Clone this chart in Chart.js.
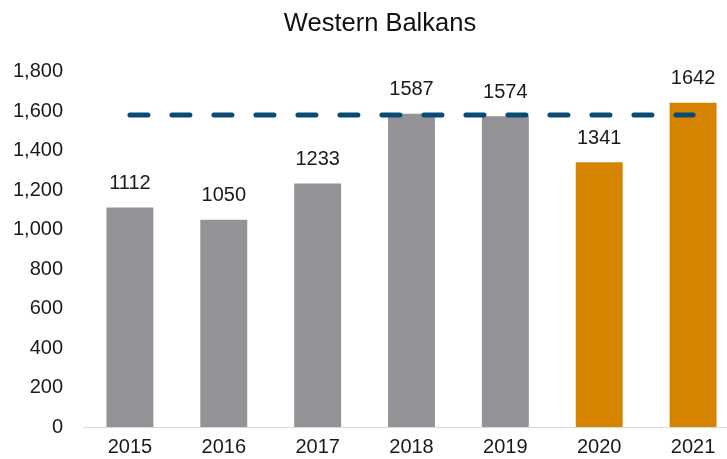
<!DOCTYPE html>
<html>
<head>
<meta charset="utf-8">
<script src="https://cdn.jsdelivr.net/npm/chart.js@4/dist/chart.umd.min.js"></script>
<style>
  html, body { margin: 0; padding: 0; background: #fff; overflow: hidden; }
  #wrap { width: 760px; height: 459px; position: relative; }
</style>
</head>
<body>
<div id="wrap"><canvas id="chart"></canvas></div>
<script>
// 데이터
var years = ["2015", "2016", "2017", "2018", "2019", "2020", "2021"];
var arrivals = [1112, 1050, 1233, 1587, 1574, 1341, 1642];
var reference = [1580, 1580, 1580, 1580, 1580, 1580, 1580];
var barColors = ["#939397", "#939397", "#939397", "#939397", "#939397", "#d68400", "#d68400"];

var FONT = "'Liberation Sans', Arial, sans-serif";

// 막대 위 값 표시
var valueLabels = {
  id: "valueLabels",
  afterLayout: function (chart) {
    // 제목을 캔버스 가운데로
    var t = chart.titleBlock;
    if (t) { t.left = 20; t.right = 740; t.width = 720; }
  },
  afterDatasetsDraw: function (chart) {
    var ctx = chart.ctx;
    var meta = chart.getDatasetMeta(0);
    ctx.save();
    ctx.font = "20px " + FONT;
    ctx.fillStyle = "#1a1a1a";
    ctx.textAlign = "center";
    ctx.textBaseline = "middle";
    meta.data.forEach(function (bar, i) {
      ctx.fillText(String(arrivals[i]), bar.x, bar.y - 24);
    });
    ctx.restore();
  },
};

var chart = new Chart(document.getElementById("chart").getContext("2d"), {
  data: {
    labels: years,
    datasets: [
      {
        type: "bar",
        data: arrivals,
        backgroundColor: barColors,
        borderWidth: 0,
        categoryPercentage: 1,
        barPercentage: 0.5,
        order: 2,
      },
      {
        type: "line",
        data: reference,
        borderColor: "#0a4b74",
        borderWidth: 5,
        borderDash: [18, 24],
        borderCapStyle: "round",
        pointRadius: 0,
        fill: false,
        order: 1,
      },
    ],
  },
  options: {
    responsive: true,
    maintainAspectRatio: false,
    animation: false,
    layout: { padding: { left: 12, right: 20, top: 0, bottom: 0 } },
    plugins: {
      legend: { display: false },
      tooltip: { enabled: false },
      title: {
        display: true,
        text: "Western Balkans",
        color: "#111",
        font: { family: FONT, size: 25.5, weight: "normal" },
        padding: { top: 9, bottom: 32 },
      },
    },
    scales: {
      x: {
        grid: { display: false, drawTicks: false },
        border: { display: true, color: "#d9d9d9", width: 1 },
        ticks: { color: "#1a1a1a", padding: 8, font: { family: FONT, size: 20 } },
        afterFit: function (s) { s.height = 27; },
      },
      y: {
        min: 0,
        max: 1800,
        grid: { display: false, drawTicks: false },
        border: { display: false },
        ticks: {
          stepSize: 200,
          color: "#1a1a1a",
          padding: 20,
          font: { family: FONT, size: 20 },
          callback: function (v) { return v.toLocaleString("en-US"); },
        },
        afterFit: function (s) { s.width = 71; },
      },
    },
  },
  plugins: [valueLabels],
});
</script>
</body>
</html>
